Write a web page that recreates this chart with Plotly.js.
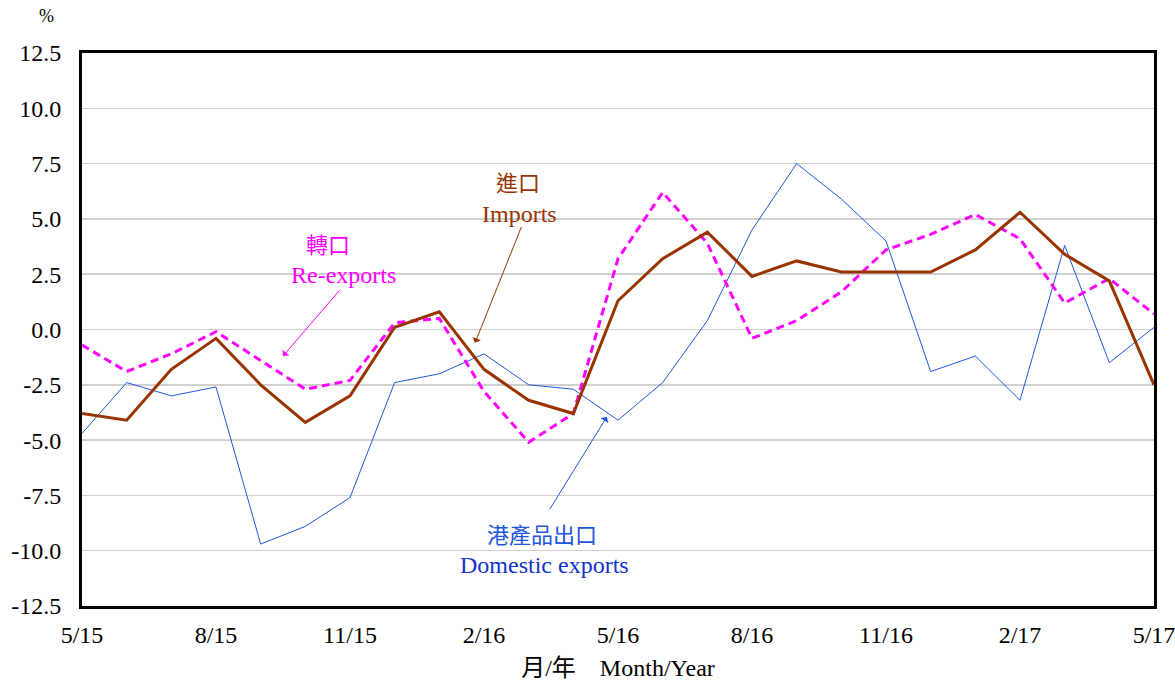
<!DOCTYPE html>
<html>
<head>
<meta charset="utf-8">
<script src="https://cdn.plot.ly/plotly-3.0.1.min.js"></script>
<style>html,body{margin:0;padding:0;background:#fff;}#chart{width:1175px;height:681px;}</style>
</head>
<body>
<div id="chart"></div>
<script>
const months = ['5/15','6/15','7/15','8/15','9/15','10/15','11/15','12/15','1/16','2/16','3/16','4/16','5/16','6/16','7/16','8/16','9/16','10/16','11/16','12/16','1/17','2/17','3/17','4/17','5/17'];
const domesticExports = [-4.7,-2.4,-3.0,-2.6,-9.7,-8.9,-7.6,-2.4,-2.0,-1.1,-2.5,-2.7,-4.1,-2.4,0.4,4.5,7.5,5.9,4.0,-1.9,-1.2,-3.2,3.8,-1.5,0.1];
const imports = [-3.8,-4.1,-1.8,-0.4,-2.5,-4.2,-3.0,0.1,0.8,-1.8,-3.2,-3.8,1.3,3.2,4.4,2.4,3.1,2.6,2.6,2.6,3.6,5.3,3.4,2.2,-2.5];
const reExports = [-0.7,-1.9,-1.1,-0.1,-1.4,-2.7,-2.3,0.3,0.5,-2.8,-5.1,-3.8,3.2,6.2,3.9,-0.4,0.4,1.7,3.6,4.3,5.2,4.1,1.2,2.3,0.7];
const yTickVals = [-12.5,-10,-7.5,-5,-2.5,0,2.5,5,7.5,10,12.5];
const yTickText = ['-12.5','-10.0','-7.5','-5.0','-2.5','0.0','2.5','5.0','7.5','10.0','12.5'];
const xLabelIdx = [0,3,6,9,12,15,18,21,24];

const idx = months.map((m,i)=>i);
const serif = 'Liberation Serif, Times New Roman, Noto Sans CJK TC, serif';
const cBlue = '#2255DD', cBrown = '#993300', cMag = '#FF00FF';

const traces = [
  {x: idx, y: domesticExports, mode:'lines', line:{color:cBlue, width:1}, hoverinfo:'skip'},
  {x: idx, y: reExports, mode:'lines', line:{color:cMag, width:3, dash:'8px,5px'}, hoverinfo:'skip'},
  {x: idx, y: imports, mode:'lines', line:{color:cBrown, width:3}, hoverinfo:'skip'}
];

const layout = {
  width:1175, height:681,
  margin:{l:82, r:21, t:53, b:75},
  paper_bgcolor:'#fff', plot_bgcolor:'#fff',
  showlegend:false,
  font:{family:serif, size:24, color:'#000'},
  xaxis:{
    range:[0,24], tickvals:xLabelIdx, ticktext:xLabelIdx.map(i=>months[i]),
    ticks:'outside', ticklen:5, tickcolor:'rgba(0,0,0,0)', showgrid:false, zeroline:false,
    showline:true, linecolor:'#000', linewidth:3, mirror:true, ticklabeloverflow:'allow',
    tickfont:{family:serif, size:24, color:'#000'},
    title:{text:'月/年　Month/Year', font:{family:serif, size:24, color:'#000'}, standoff:13}
  },
  xaxis2:{
    overlaying:'x', anchor:'free', position:0.5, side:'top',
    range:[0,24], tickvals:idx, ticks:'outside', ticklen:7, tickcolor:'#000', tickwidth:1,
    showticklabels:false, showgrid:false, zeroline:false,
    showline:true, linecolor:'#000', linewidth:1
  },
  yaxis:{
    range:[-12.5,12.5], tickvals:yTickVals, ticktext:yTickText,
    ticks:'outside', ticklen:13, tickcolor:'rgba(0,0,0,0)', showgrid:true, gridcolor:'#d0d0d0', gridwidth:1.5, zeroline:false,
    showline:true, linecolor:'#000', linewidth:3, mirror:true, ticklabeloverflow:'allow',
    tickfont:{family:serif, size:24, color:'#000'}
  },
  annotations:[
    {xref:'paper', yref:'paper', x:-0.033, y:1.045, xanchor:'center', yanchor:'bottom', text:'%', showarrow:false, font:{family:serif, size:18, color:'#000'}},
    {xref:'x', yref:'y', x:5.5, y:3.8, text:'轉口', showarrow:false, font:{family:serif, size:22, color:cMag}},
    {xref:'x', yref:'y', x:5.85, y:2.45, text:'Re-exports', showarrow:false, font:{family:serif, size:24, color:cMag}},
    {xref:'x', yref:'y', x:4.5, y:-1.2, ax:5.8, ay:1.85, axref:'x', ayref:'y', text:'', showarrow:true, arrowhead:1, arrowsize:1.5, arrowwidth:1, arrowcolor:cMag},
    {xref:'x', yref:'y', x:9.75, y:6.6, text:'進口', showarrow:false, font:{family:serif, size:22, color:cBrown}},
    {xref:'x', yref:'y', x:9.8, y:5.2, text:'Imports', showarrow:false, font:{family:serif, size:24, color:cBrown}},
    {xref:'x', yref:'y', x:8.8, y:-0.6, ax:9.85, ay:4.7, axref:'x', ayref:'y', text:'', showarrow:true, arrowhead:1, arrowsize:1.5, arrowwidth:1, arrowcolor:cBrown},
    {xref:'x', yref:'y', x:10.3, y:-9.3, text:'港產品出口', showarrow:false, font:{family:serif, size:22, color:cBlue}},
    {xref:'x', yref:'y', x:10.35, y:-10.65, text:'Domestic exports', showarrow:false, font:{family:serif, size:24, color:'#1133CC'}},
    {xref:'x', yref:'y', x:11.75, y:-3.95, ax:10.45, ay:-8.2, axref:'x', ayref:'y', text:'', showarrow:true, arrowhead:1, arrowsize:1.5, arrowwidth:1, arrowcolor:cBlue}
  ]
};
Plotly.newPlot('chart', traces, layout, {displayModeBar:false, staticPlot:true});
</script>
</body>
</html>
